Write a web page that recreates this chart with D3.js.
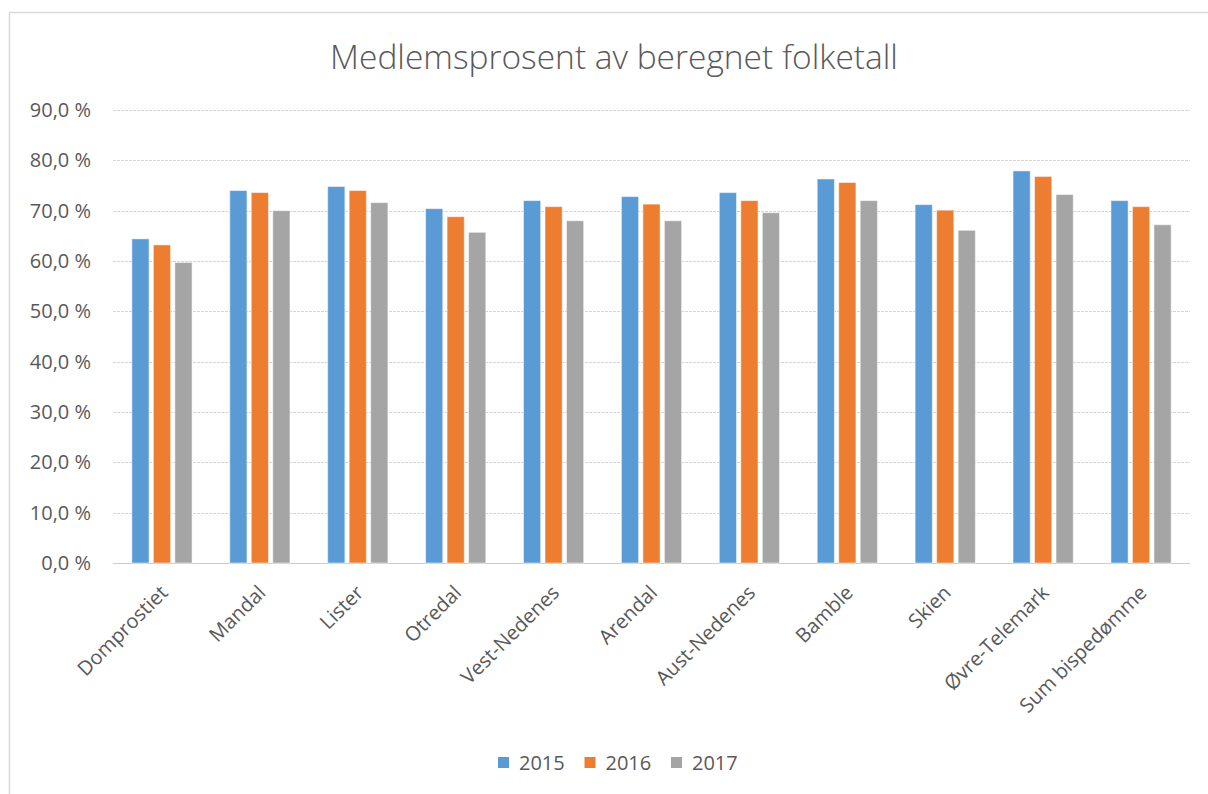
<!DOCTYPE html>
<html>
<head>
<meta charset="utf-8">
<script src="https://cdn.jsdelivr.net/npm/d3@7"></script>
<style>
  body { margin: 0; background: #fff; }
  text { font-family: "Open Sans", "Liberation Sans", sans-serif; fill: #595959; }
</style>
</head>
<body>
<div id="chart"></div>
<script>
const categories = ["Domprostiet", "Mandal", "Lister", "Otredal", "Vest-Nedenes", "Arendal",
    "Aust-Nedenes", "Bamble", "Skien", "Øvre-Telemark", "Sum bispedømme"];
const years = ["2015", "2016", "2017"];
const values2015 = [64.4, 74.0, 74.8, 70.4, 72.0, 72.8, 73.6, 76.3, 71.2, 77.9, 72.0];
const values2016 = [63.2, 73.6, 74.0, 68.8, 70.8, 71.3, 72.0, 75.6, 70.1, 76.8, 70.8];
const values2017 = [59.7, 70.0, 71.6, 65.7, 68.0, 68.0, 69.6, 72.0, 66.1, 73.2, 67.2];
const yTicks = [0, 10, 20, 30, 40, 50, 60, 70, 80, 90];
const colors = ["#5b9bd5", "#ed7d31", "#a5a5a5"];

const seriesValues = [values2015, values2016, values2017];
const data = categories.map((c, i) => ({
    category: c,
    values: years.map((y, j) => ({ year: y, value: seriesValues[j][i] }))
}));

const width = 1208, height = 794;
const plot = { left: 113, right: 1190, top: 110, bottom: 563 };

const svg = d3.select("#chart")
    .append("svg")
    .attr("width", width)
    .attr("height", height);

// chart frame
svg.append("rect")
    .attr("x", 9.5)
    .attr("y", 12.5)
    .attr("width", 1220)
    .attr("height", 800)
    .attr("fill", "none")
    .attr("stroke", "#d9d9d9")
    .attr("stroke-width", 1.5);

svg.append("text")
    .attr("x", 614)
    .attr("y", 69)
    .attr("text-anchor", "middle")
    .style("font-size", "33.5px")
    .style("font-weight", 300)
    .text("Medlemsprosent av beregnet folketall");

const x = d3.scaleBand()
    .domain(categories)
    .range([plot.left, plot.right])
    .paddingInner(0.385)
    .paddingOuter(0.1925);

const xInner = d3.scaleBand()
    .domain(years)
    .range([0, x.bandwidth()])
    .paddingInner(0.2);

const y = d3.scaleLinear()
    .domain([0, 90])
    .range([plot.bottom, plot.top]);

const color = d3.scaleOrdinal().domain(years).range(colors);

// gridlines
svg.append("g")
    .selectAll("line")
    .data(yTicks)
    .enter()
    .append("line")
    .attr("x1", plot.left)
    .attr("x2", plot.right)
    .attr("y1", d => Math.round(y(d)) + 0.5)
    .attr("y2", d => Math.round(y(d)) + 0.5)
    .attr("stroke", d => d === 0 ? "#cccccc" : "#d4d4d4")
    .attr("stroke-dasharray", d => d === 0 ? null : "3,1");

// y axis labels
const yAxis = svg.append("g")
    .attr("transform", `translate(${plot.left}, 0)`)
    .call(d3.axisLeft(y).tickValues(yTicks).tickSize(0).tickPadding(22)
        .tickFormat(d => d3.format(".1f")(d).replace(".", ",") + " %"));
yAxis.select(".domain").remove();
yAxis.selectAll("text")
    .style("font-size", "20px")
    .style("font-family", "\"Open Sans\", sans-serif")
    .attr("fill", "#595959");

// bars
svg.append("g")
    .selectAll("g")
    .data(data)
    .enter()
    .append("g")
    .attr("transform", d => `translate(${x(d.category)}, 0)`)
    .selectAll("rect")
    .data(d => d.values)
    .enter()
    .append("rect")
    .attr("x", d => xInner(d.year))
    .attr("y", d => y(d.value))
    .attr("width", xInner.bandwidth())
    .attr("height", d => y(0) - y(d.value))
    .attr("fill", d => color(d.year))
    .attr("stroke", "#ffffff")
    .attr("stroke-opacity", 0.5)
    .attr("stroke-width", 1);

// x axis labels
const xAxis = svg.append("g")
    .attr("transform", `translate(0, ${plot.bottom})`)
    .call(d3.axisBottom(x).tickSize(0).tickPadding(0));
xAxis.select(".domain").remove();
xAxis.selectAll("text")
    .style("font-size", "20px")
    .style("font-family", "\"Open Sans\", sans-serif")
    .attr("fill", "#595959")
    .attr("dy", null)
    .attr("y", 0)
    .attr("transform", "translate(7, 31) rotate(-45)")
    .attr("text-anchor", "end");

// legend
const legend = svg.append("g")
    .selectAll("g")
    .data(years)
    .enter()
    .append("g")
    .attr("transform", (d, i) => `translate(${498 + i * 86.5}, 763)`);

legend.append("rect")
    .attr("x", 0)
    .attr("y", -6)
    .attr("width", 11)
    .attr("height", 11)
    .attr("fill", color);

legend.append("text")
    .attr("x", 21)
    .attr("y", 0)
    .attr("dy", "0.35em")
    .style("font-size", "20px")
    .text(d => d);
</script>
</body>
</html>
